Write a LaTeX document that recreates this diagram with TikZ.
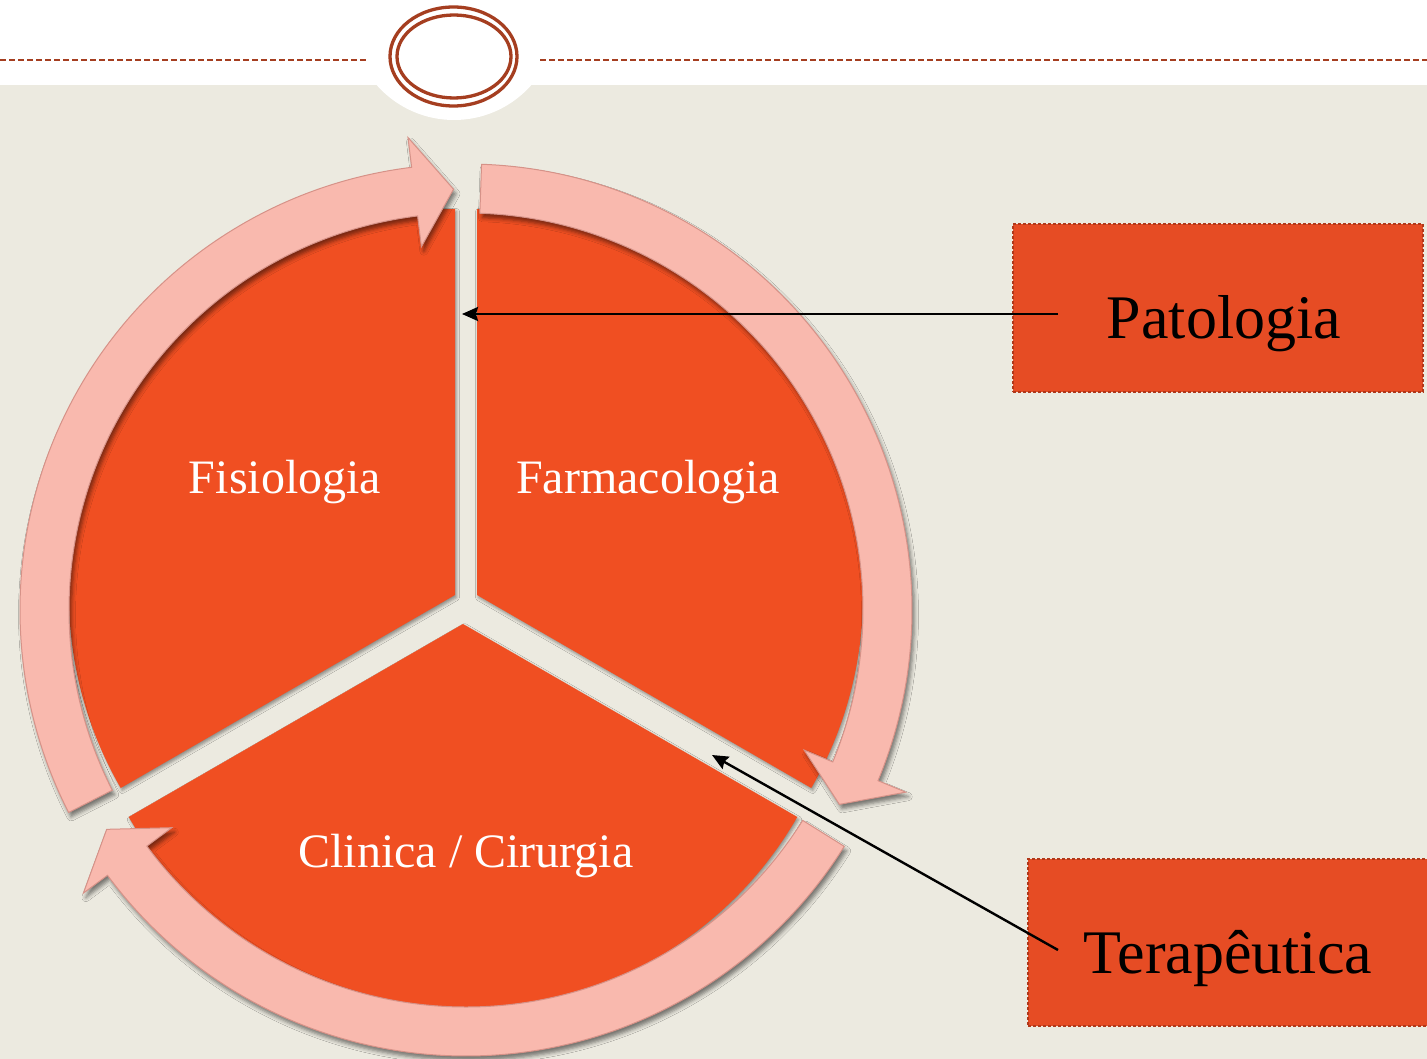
\documentclass[tikz,border=0pt]{standalone}
\usepackage{fontspec}
\setmainfont{Liberation Serif}
\usetikzlibrary{calc,arrows.meta,shadows.blur}

\definecolor{paper}{RGB}{236,234,224}
\definecolor{rust}{RGB}{165,62,32}
\definecolor{segred}{RGB}{240,79,34}
\definecolor{boxred}{RGB}{230,76,36}
\definecolor{boxline}{RGB}{178,56,26}
\definecolor{bandpink}{RGB}{249,185,174}
\definecolor{bandline}{RGB}{214,146,136}

% curved band arrow around the ring centre: #1 tail angle, #2 head base angle, #3 tip angle
\newcommand\cyclearrow[3]{%
  \draw[bandarrow] ($(ring)+(#1:397)$) arc[start angle=#1, end angle=#2, radius=397]
    -- ($(ring)+(#2:366)$) -- ($(ring)+(#3:421)$) -- ($(ring)+(#2:476)$)
    -- ($(ring)+(#2:446)$) arc[start angle=#2, end angle=#1, radius=446] -- cycle;}

% pie segment: #1 apex, #2 start angle, #3 end angle
\newcommand\piesegment[3]{%
  \fill[segment] (#1) -- ++(#2:386) arc[start angle=#2, end angle=#3, radius=386] -- cycle;}

\begin{document}
\begin{tikzpicture}[x=1pt, y=-1pt,
  segment/.style={segred, blur shadow={shadow xshift=1.5pt, shadow yshift=-2.5pt, shadow blur radius=3pt, shadow opacity=40}},
  bandarrow/.style={fill=bandpink, draw=bandline, line width=1pt, line join=miter,
    blur shadow={shadow xshift=2.5pt, shadow yshift=-4.5pt, shadow blur radius=4pt, shadow opacity=50}},
  seglabel/.style={text=white, font=\fontsize{48}{52}\selectfont, anchor=base, inner sep=0pt},
  tagbox/.style={fill=boxred, draw=boxline, line width=1.3pt, densely dashed, inner sep=0pt},
  taglabel/.style={text=black, font=\fontsize{62}{66}\selectfont, anchor=base, inner sep=0pt},
  pointer/.style={draw=black, line width=2.4pt, -{Stealth[length=16pt, width=14pt, inset=2pt]}}]

\useasboundingbox (0,0) rectangle (1427,1059);
\begin{scope}
\clip (0,0) rectangle (1427,1059);

% page header and background
\fill[white] (0,0) rectangle (1427,85);
\fill[paper] (0,85) rectangle (1427,1059);
\fill[white] (454,17) circle[radius=103];
\draw[rust, line width=1.4pt, dash pattern=on 6pt off 3pt] (0,60) -- (368,60);
\draw[rust, line width=1.4pt, dash pattern=on 6pt off 3pt] (540,60) -- (1427,60);
\draw[rust, line width=3.3pt] (453.5,56.5) ellipse[x radius=63.5, y radius=49.5];
\draw[rust, line width=3.3pt] (454,56.5) ellipse[x radius=57, y radius=41.5];

% three pie segments
\coordinate (apexA) at (455,595);
\coordinate (apexB) at (477,595);
\coordinate (apexC) at (463,624);
\piesegment{apexA}{150}{270}
\piesegment{apexB}{270}{390}
\piesegment{apexC}{30}{150}

% cycle arrows
\coordinate (ring) at (466,610);
\cyclearrow{153}{263}{268.3}
\cyclearrow{272}{382.5}{387.5}
\cyclearrow{32}{143.5}{148.6}

% segment labels
\node[seglabel] (fisio) at (285,493) {Fisiologia};
\node[seglabel] (farma) at (648,493) {Farmacologia};
\node[seglabel] (clin) at (466,867) {Clinica / Cirurgia};

% side tags
\node[tagbox, minimum width=410pt, minimum height=168pt] (patbox) at (1218,308) {};
\node[taglabel] (patlabel) at (1224,338) {Patologia};
\node[tagbox, minimum width=420pt, minimum height=167pt] (terbox) at (1238,942.5) {};
\node[taglabel] (terlabel) at (1228,973) {Terapêutica};

% pointers
\coordinate (patfrom) at (1058,314);
\coordinate (patto) at (462,314);
\coordinate (terfrom) at (1058,950);
\coordinate (terto) at (712,755);
\draw[pointer] (patfrom) -- (patto);
\draw[pointer] (terfrom) -- (terto);
\end{scope}
\end{tikzpicture}
\end{document}
